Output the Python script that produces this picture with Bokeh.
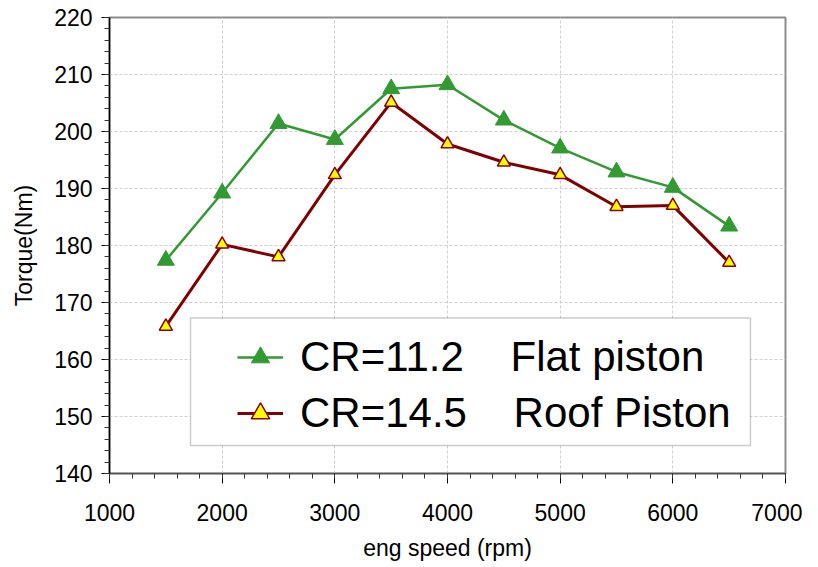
from bokeh.plotting import figure
from bokeh.models import Range1d, SingleIntervalTicker, BoxAnnotation
from bokeh.embed import file_html
from bokeh.resources import INLINE

# ---- data ----
rpm = [1500, 2000, 2500, 3000, 3500, 4000, 4500, 5000, 5500, 6000, 6500]
flat_torque = [177.4, 189.2, 201.4, 198.6, 207.5, 208.2, 202.0, 197.1, 192.9, 190.2, 183.4]
roof_torque = [165.8, 180.2, 178.0, 192.4, 205.1, 197.8, 194.6, 192.4, 186.8, 187.0, 177.0]
label_flat = "CR=11.2\u00a0\u00a0\u00a0\u00a0Flat piston"
label_roof = "CR=14.5\u00a0\u00a0\u00a0\u00a0Roof Piston"
x_label = "eng speed (rpm)"
y_label = "Torque(Nm)"

FONT = "Liberation Sans"

p = figure(width=802, height=566, output_backend="svg", toolbar_location=None,
           x_range=Range1d(1000, 7000), y_range=Range1d(140, 220),
           min_border_left=109, min_border_right=17, min_border_top=17, min_border_bottom=93)
p.background_fill_color = "white"
p.border_fill_color = "white"
p.outline_line_color = "#8c8c8c"
p.outline_line_width = 2

# axes
p.xaxis.ticker = SingleIntervalTicker(interval=1000, num_minor_ticks=5)
p.yaxis.ticker = SingleIntervalTicker(interval=10, num_minor_ticks=5)
for ax in (p.xaxis[0], p.yaxis[0]):
    ax.axis_line_color = "black"
    ax.axis_line_width = 1.5
    ax.major_tick_line_color = "black"
    ax.minor_tick_line_color = "#333333"
    ax.major_tick_in = 0
    ax.minor_tick_in = 0
    ax.major_label_text_font = FONT
    ax.major_label_text_font_size = "23px"
    ax.major_label_text_color = "black"
    ax.axis_label_text_font = FONT
    ax.axis_label_text_font_size = "23px"
    ax.axis_label_text_font_style = "normal"
    ax.axis_label_text_color = "black"
p.xaxis.axis_line_color = "#555555"
p.xaxis.major_tick_out = 10
p.xaxis.minor_tick_out = 5
p.xaxis.major_label_standoff = 20
p.xaxis.axis_label_standoff = 11
p.xaxis.axis_label = x_label
p.yaxis.major_tick_out = 8
p.yaxis.minor_tick_out = 5
p.yaxis.major_label_standoff = 9
p.yaxis.axis_label_standoff = 14
p.yaxis.axis_label = y_label

# grid
for g in (p.xgrid[0], p.ygrid[0]):
    g.grid_line_color = "#cfcfcf"
    g.grid_line_dash = "3 2"
    g.grid_line_width = 1

# legend box (layout, in data space of the fixed ranges)
box = BoxAnnotation(left=1719, right=6689, top=167.3, bottom=144.9,
                    fill_color="white", fill_alpha=1.0,
                    line_color="#555555", line_width=1.5)
p.add_layout(box)

# series
p.line(rpm, flat_torque, line_color="#339933", line_width=2.5, legend_label=label_flat)
p.scatter(rpm, flat_torque, marker="triangle", size=17, fill_color="#339933",
          line_color="#339933", legend_label=label_flat)
p.line(rpm, roof_torque, line_color="#800000", line_width=3, legend_label=label_roof)
p.scatter(rpm, roof_torque, marker="triangle", size=13, fill_color="#ffff00",
          line_color="#8b0000", line_width=1.5, legend_label=label_roof)

lg = p.legend[0]
lg.location = (128, 35)
lg.margin = 0
lg.padding = 0
lg.spacing = 6
lg.glyph_width = 46
lg.glyph_height = 50
lg.label_height = 50
lg.label_standoff = 17
lg.label_text_font = FONT
lg.label_text_font_size = "42px"
lg.label_text_color = "black"
lg.border_line_alpha = 0
lg.background_fill_alpha = 0

open("out.html", "w").write(file_html(p, INLINE))
